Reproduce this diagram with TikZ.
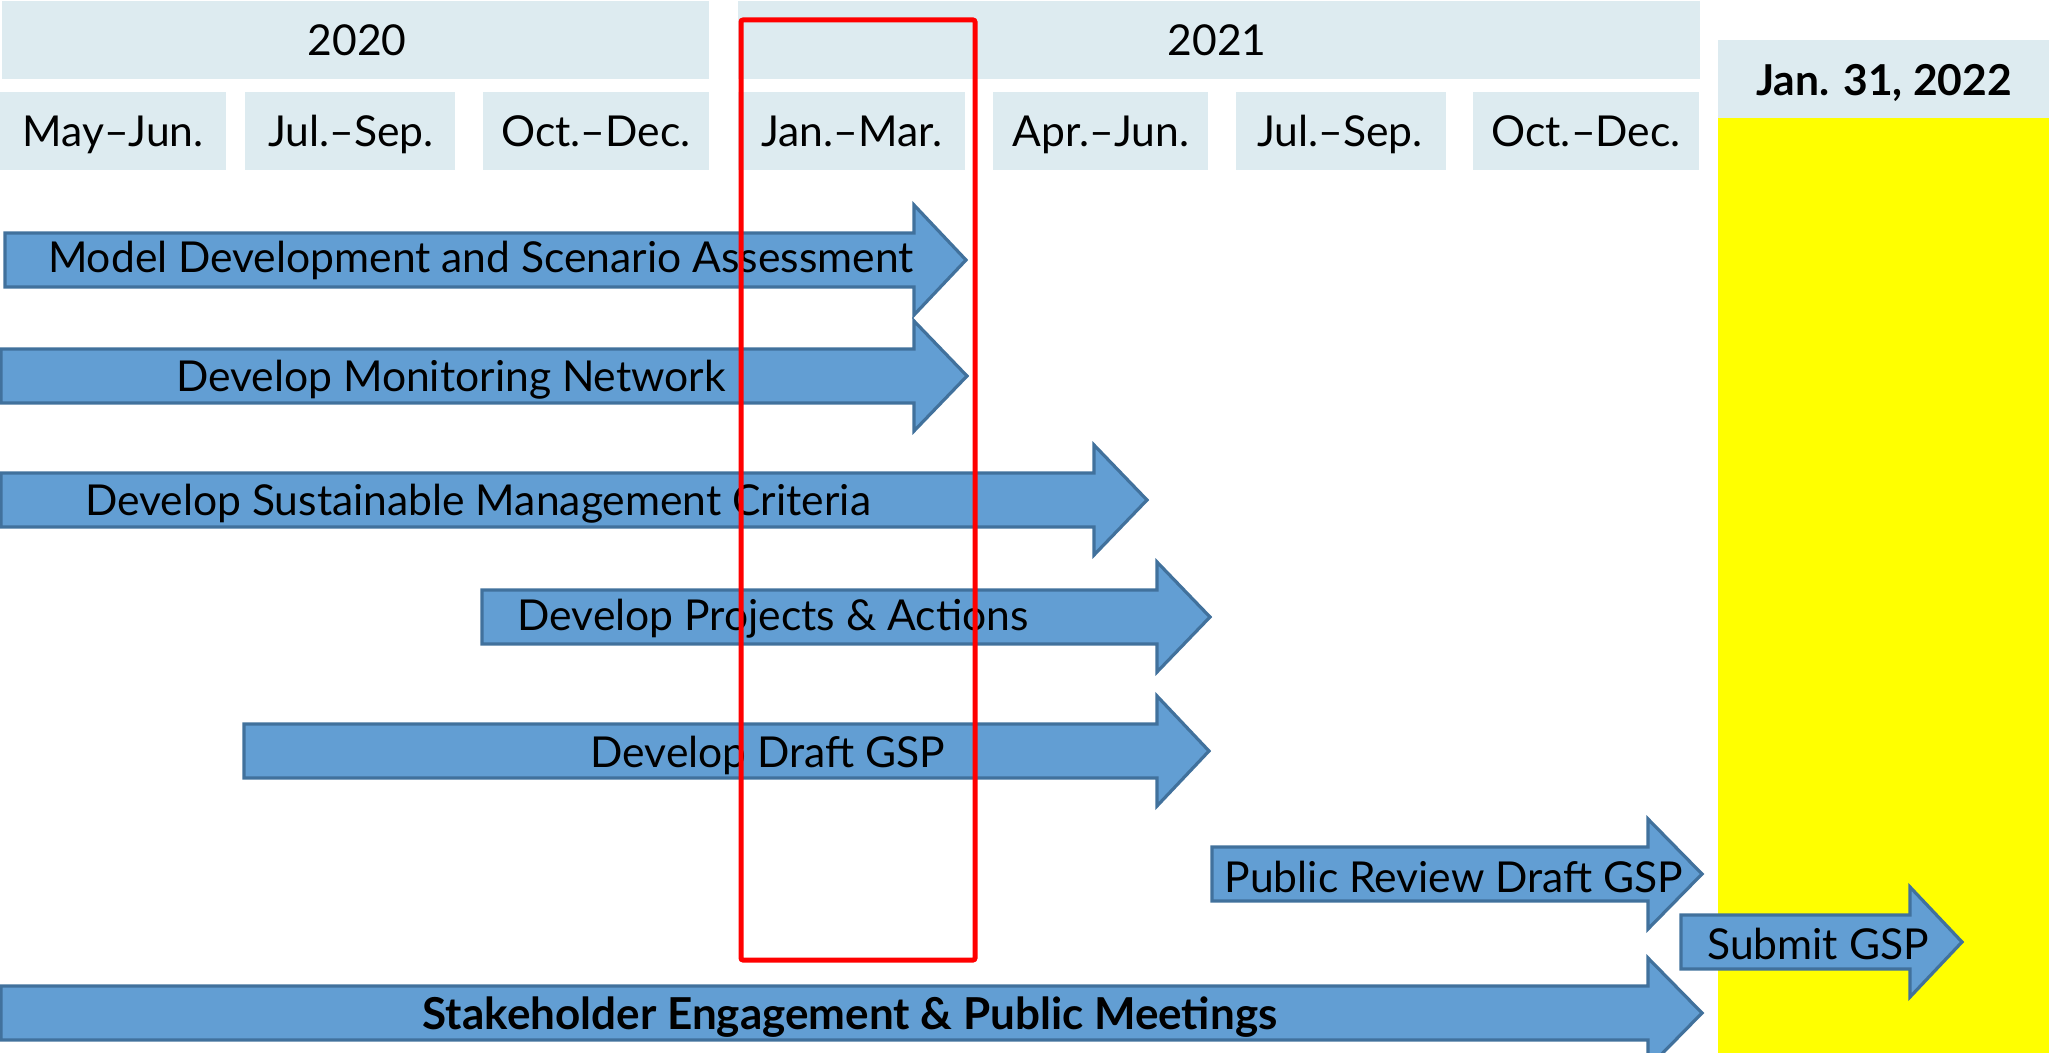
\documentclass[tikz,border=0pt]{standalone}
\usepackage{fontspec}
\setmainfont{Lato}
\definecolor{hdrc}{RGB}{221,235,240}
\definecolor{afill}{RGB}{98,158,211}
\definecolor{aline}{RGB}{65,113,156}
\definecolor{ylw}{RGB}{255,255,0}
\definecolor{rd}{RGB}{255,0,0}
\newcommand\garrow[4]{\draw[garr] (#1,#4-27) -- (#2,#4-27) -- (#2,#4-55) -- (#3,#4) -- (#2,#4+55) -- (#2,#4+27) -- (#1,#4+27) -- cycle;}
\begin{document}
\begin{tikzpicture}[x=0.5pt,y=-0.5pt,
  hdrbox/.style={fill=hdrc},
  txt/.style={font=\fontsize{21.3}{25}\selectfont, inner sep=0pt, anchor=base},
  btxt/.style={txt, font=\fontsize{22}{26}\selectfont\bfseries},
  garr/.style={fill=afill, draw=aline, line width=1.6pt, line join=miter}]
\useasboundingbox (0,0) rectangle (2049,1053);
\clip (0,0) rectangle (2049,1053);
% deadline column
\fill[ylw] (1718,118) rectangle (2049,1053);
\fill[hdrbox] (1718,40) rectangle (2049,118);
\node[btxt, font=\fontsize{21.3}{25}\selectfont\bfseries] (deadline) at (1884,96) {Jan. 31, 2022};
% year headers
\fill[hdrbox] (2,1) rectangle (709,79);
\fill[hdrbox] (738,1) rectangle (1700,79);
\node[txt] (y2020) at (357,56) {2020};
\node[txt] (y2021) at (1217,56) {2021};
% quarter headers
\fill[hdrbox] (0,92) rectangle (226,170);
\fill[hdrbox] (245,92) rectangle (455,170);
\fill[hdrbox] (483,92) rectangle (709,170);
\fill[hdrbox] (738,92) rectangle (965,170);
\fill[hdrbox] (993,92) rectangle (1208,170);
\fill[hdrbox] (1236,92) rectangle (1446,170);
\fill[hdrbox] (1473,92) rectangle (1699,170);
\node[txt] (q1) at (113,147) {May–Jun.};
\node[txt] (q2) at (351,147) {Jul.–Sep.};
\node[txt] (q3) at (596,147) {Oct.–Dec.};
\node[txt] (q4) at (852,147) {Jan.–Mar.};
\node[txt] (q5) at (1101,147) {Apr.–Jun.};
\node[txt] (q6) at (1340,147) {Jul.–Sep.};
\node[txt] (q7) at (1586,147) {Oct.–Dec.};
% task arrows
\garrow{5}{914}{966}{260}
\node[txt] (t1) at (481,273) {Model Development and Scenario Assessment};
\garrow{1}{914}{967}{376}
\node[txt] (t2) at (451,392) {Develop Monitoring Network};
\garrow{1}{1094}{1147}{500}
\node[txt] (t3) at (478,515) {Develop Sustainable Management Criteria};
\garrow{482}{1157}{1210}{617}
\node[txt] (t4) at (773,630) {Develop Projects \& Actions};
\garrow{244}{1157}{1209}{751}
\node[txt] (t5) at (768,767) {Develop Draft GSP};
\garrow{1212}{1648}{1702}{874}
\node[txt] (t6) at (1454,892) {Public Review Draft GSP};
\garrow{1681}{1910}{1962}{942}
\node[txt] (t7) at (1818,959) {Submit GSP};
\garrow{1}{1648}{1702}{1013}
\node[btxt] (t8) at (850,1029) {Stakeholder Engagement \& Public Meetings};
% highlight
\draw[rd, line width=2.5pt, rounded corners=1pt] (741,20) rectangle (975,960);
\end{tikzpicture}
\end{document}
